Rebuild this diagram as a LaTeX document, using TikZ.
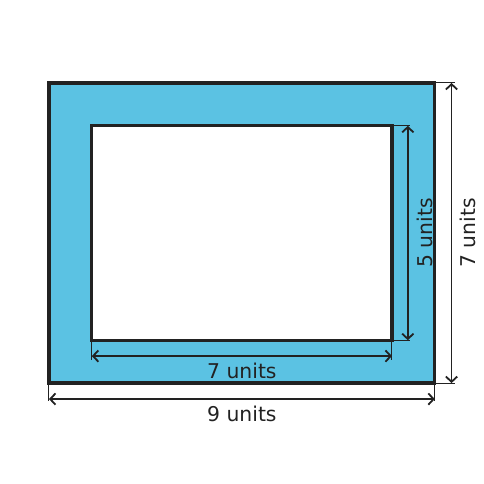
\documentclass[tikz,border=0pt]{standalone}
\usepackage{fontspec}
\setmainfont{DejaVu Sans}
\usetikzlibrary{arrows.meta}
\definecolor{frameblue}{HTML}{5BC2E3}
\definecolor{ink}{HTML}{222222}

\begin{document}
\begin{tikzpicture}[
    dim/.style={ink,line width=1.2pt,{Straight Barb[length=3.5pt,width=7.5pt]}-{Straight Barb[length=3.5pt,width=7.5pt]}},
    ext/.style={ink,line width=0.7pt},
    lbl/.style={text=ink,font=\fontsize{13.5}{16}\selectfont,inner sep=0pt}
]
    \useasboundingbox (-1.142,-2.354) rectangle (10.14,8.935);

    % corners of the frame
    \coordinate (outSW) at (0,0);
    \coordinate (outNE) at (9,7);
    \coordinate (outSE) at (9,0);
    \coordinate (inSW) at (1,1);
    \coordinate (inNE) at (8,6);
    \coordinate (inSE) at (8,1);

    \filldraw[fill=frameblue,draw=ink,line width=2.1pt] (outSW) rectangle (outNE);
    \filldraw[fill=white,draw=ink,line width=2.1pt] (inSW) rectangle (inNE);

    % extension lines
    \coordinate (extA) at (0,-0.42);
    \coordinate (extB) at (9,-0.42);
    \coordinate (extC) at (1,0.54);
    \coordinate (extD) at (8,0.54);
    \coordinate (extE) at (8.41,6);
    \coordinate (extF) at (8.41,1);
    \coordinate (extG) at (9.46,7);
    \coordinate (extH) at (9.46,0);
    \draw[ext] (outSW) -- (extA);
    \draw[ext] (outSE) -- (extB);
    \draw[ext] (inSW) -- (extC);
    \draw[ext] (inSE) -- (extD);
    \draw[ext] (inNE) -- (extE);
    \draw[ext] (inSE) -- (extF);
    \draw[ext] (outNE) -- (extG);
    \draw[ext] (outSE) -- (extH);

    % dimension lines
    \draw[dim] (0,-0.373) -- (9,-0.373);
    \draw[dim] (1,0.63) -- (8,0.63);
    \draw[dim] (8.37,1) -- (8.37,6);
    \draw[dim] (9.39,0) -- (9.39,7);

    \node (innerW) [lbl] at (4.5,0.28) {7 units};
    \node (outerW) [lbl] at (4.5,-0.72) {9 units};
    \node (innerH) [lbl,rotate=90] at (8.76,3.5) {5 units};
    \node (outerH) [lbl,rotate=90] at (9.77,3.5) {7 units};
\end{tikzpicture}
\end{document}
